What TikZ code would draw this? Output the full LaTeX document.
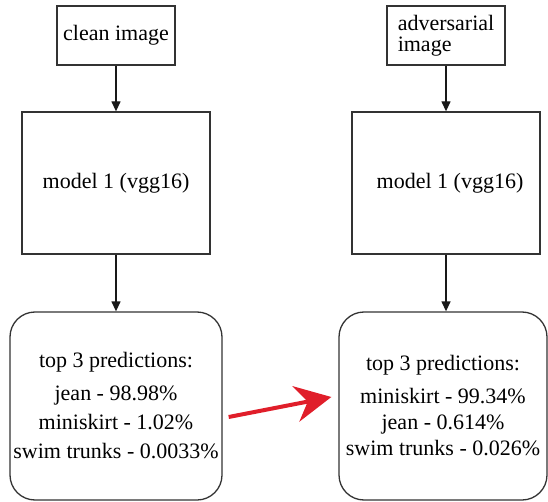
\documentclass[tikz,border=0pt]{standalone}
\usepackage{fontspec}
\setmainfont{Liberation Serif}
\usetikzlibrary{arrows.meta}

\begin{document}
\begin{tikzpicture}[x=1pt,y=-1pt,
  box/.style={draw=black!80, line width=1.3pt, inner sep=0pt, align=center,
              font=\fontsize{22}{24}\selectfont},
  predbox/.style={box, rounded corners=25pt},
  conn/.style={draw=black!90, line width=1.3pt, -{Triangle[length=10pt,width=9pt]}},
  attack/.style={draw={rgb,255:red,224;green,30;blue,42}, line width=4pt,
                 -{Stealth[length=36pt,width=36pt,inset=12pt]}}]
\useasboundingbox (0,0) rectangle (548,502);

% left column: clean input
\node[box, minimum width=118pt, minimum height=59pt] (clean) at (116,35.5) {clean image};
\node[box, minimum width=188pt, minimum height=142pt] (model1) at (116,183) {model 1 (vgg16)};
\node[predbox, minimum width=212pt, minimum height=188pt,
      font=\fontsize{22}{29}\selectfont] (pred1) at (116,406)
  {top 3 predictions:\\[4pt] jean - 98.98\%\\ miniskirt - 1.02\%\\ swim trunks - 0.0033\%};

% right column: adversarial input
\node[box, align=left, minimum width=118pt, minimum height=59pt] (adv) at (446,35.5) {\raisebox{-3pt}{adversarial}\\image};
\node[box, minimum width=188pt, minimum height=142pt] (model2) at (446,183) {\hspace{8pt}model 1 (vgg16)};
\node[predbox, minimum width=208pt, minimum height=188pt,
      font=\fontsize{22}{26}\selectfont] (pred2) at (443,406)
  {top 3 predictions:\\[7pt] miniskirt - 99.34\%\\ jean - 0.614\%\\ swim trunks - 0.026\%};

% connectors
\draw[conn] (clean) -- (model1);
\draw[conn] (model1) -- (pred1);
\draw[conn] (adv) -- (model2);
\draw[conn] (model2.south) -- (model2.south |- pred2.north);
\draw[attack] ([xshift=6pt,yshift=-11pt]pred1.east) -- ([xshift=-7pt,yshift=9pt]pred2.west);
\end{tikzpicture}
\end{document}
